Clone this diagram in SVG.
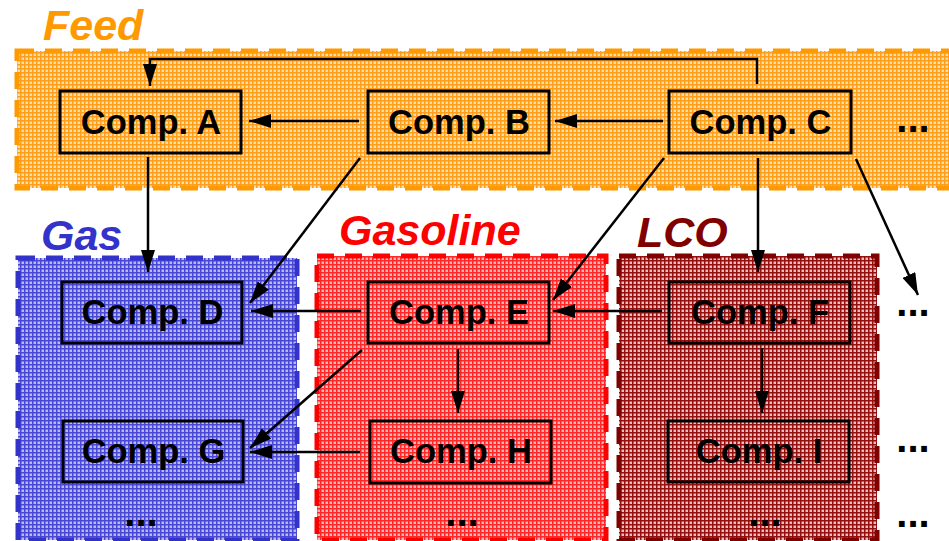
<svg xmlns="http://www.w3.org/2000/svg" width="949" height="541" viewBox="0 0 949 541">
<defs>
<pattern id="pFeed" width="4" height="4" patternUnits="userSpaceOnUse">
<rect width="4" height="4" fill="#FFDCA8"/><path d="M0,0.75 H4 M0.75,0 V4" stroke="#FF9E1A" stroke-width="1.5"/>
</pattern>
<pattern id="pGas" width="4" height="4" patternUnits="userSpaceOnUse">
<rect width="4" height="4" fill="#B8B8F2"/><path d="M0,0.75 H4 M0.75,0 V4" stroke="#4848D4" stroke-width="1.5"/>
</pattern>
<pattern id="pGasoline" width="4" height="4" patternUnits="userSpaceOnUse">
<rect width="4" height="4" fill="#FFB4B4"/><path d="M0,0.75 H4 M0.75,0 V4" stroke="#FF2828" stroke-width="1.5"/>
</pattern>
<pattern id="pLCO" width="4" height="4" patternUnits="userSpaceOnUse">
<rect width="4" height="4" fill="#E2C0C0"/><path d="M0,0.75 H4 M0.75,0 V4" stroke="#960F0F" stroke-width="1.5"/>
</pattern>
<marker id="arr" markerUnits="userSpaceOnUse" markerWidth="22" markerHeight="14" refX="22" refY="7" orient="auto">
<path d="M0,0 L22,7 L0,14 z" fill="#000"/>
</marker>
</defs>
<style>
.grp{stroke-width:5;stroke-dasharray:17 11}
.lab{font-family:"Liberation Sans",Arial,sans-serif;font-weight:bold;font-style:italic;font-size:43px}
.box{fill:none;stroke:#000;stroke-width:3}
.t{font-family:"Liberation Sans",Arial,sans-serif;font-weight:bold;font-size:34.5px;fill:#000;text-anchor:middle}
.dots{font-family:"Liberation Sans",Arial,sans-serif;font-weight:bold;font-size:40px;fill:#000;text-anchor:middle}
.c{fill:none;stroke:#000;stroke-width:2.5;marker-end:url(#arr)}
</style>
<rect width="949" height="541" fill="#fff"/>

<g id="group-feed">
<rect class="grp" x="17" y="51" width="960" height="137" fill="url(#pFeed)" stroke="#FF9900"/>
<text class="lab" x="43" y="40" fill="#FF9900">Feed</text>
</g>
<g id="group-gas">
<rect class="grp" x="18" y="258" width="279" height="282" fill="url(#pGas)" stroke="#3333CC"/>
<text class="lab" x="41" y="250" fill="#3333CC">Gas</text>
</g>
<g id="group-gasoline">
<rect class="grp" x="317" y="256" width="289" height="284" fill="url(#pGasoline)" stroke="#FF0000"/>
<text class="lab" x="339" y="245" fill="#FF0000">Gasoline</text>
</g>
<g id="group-lco">
<rect class="grp" x="619" y="256" width="258" height="284" fill="url(#pLCO)" stroke="#800000"/>
<text class="lab" x="637" y="247" fill="#800000">LCO</text>
</g>

<g id="connectors">
<path class="c" d="M757,84 V59 H150 V86"/>
<path class="c" d="M359,121 H249"/>
<path class="c" d="M663,121 H555"/>
<path class="c" d="M148,157 V272"/>
<path class="c" d="M360,158 L250,303"/>
<path class="c" d="M664,158 L553,300"/>
<path class="c" d="M758,158 V272"/>
<path class="c" d="M856,159 L918,295"/>
<path class="c" d="M361,311 H251"/>
<path class="c" d="M662,311 H553"/>
<path class="c" d="M362,350 L250,448"/>
<path class="c" d="M360,452 H250"/>
<path class="c" d="M458,349 V413"/>
<path class="c" d="M762,348 V413"/>
</g>

<g id="comp-a"><rect class="box" x="60" y="91" width="181" height="62"/><text class="t" x="151" y="134">Comp. A</text></g>
<g id="comp-b"><rect class="box" x="368" y="91" width="181" height="62"/><text class="t" x="459" y="134">Comp. B</text></g>
<g id="comp-c"><rect class="box" x="669" y="91" width="182" height="62"/><text class="t" x="760.5" y="134">Comp. C</text></g>
<g id="comp-d"><rect class="box" x="62" y="282" width="180" height="61"/><text class="t" x="152.5" y="324">Comp. D</text></g>
<g id="comp-e"><rect class="box" x="368" y="282" width="181" height="61"/><text class="t" x="459" y="324">Comp. E</text></g>
<g id="comp-f"><rect class="box" x="669" y="282" width="181" height="61"/><text class="t" x="760" y="324">Comp. F</text></g>
<g id="comp-g"><rect class="box" x="63" y="421" width="180" height="61"/><text class="t" x="153.5" y="463">Comp. G</text></g>
<g id="comp-h"><rect class="box" x="370" y="421" width="181" height="62"/><text class="t" x="461" y="463">Comp. H</text></g>
<g id="comp-i"><rect class="box" x="668" y="421" width="181" height="61"/><text class="t" x="759" y="463">Comp. I</text></g>

<g id="ellipses">
<text class="dots" x="913" y="132">...</text>
<text class="dots" x="913" y="316">...</text>
<text class="dots" x="913" y="452">...</text>
<text class="dots" x="913" y="527">...</text>
<text class="dots" x="141" y="526">...</text>
<text class="dots" x="462" y="526">...</text>
<text class="dots" x="765" y="526">...</text>
</g>
</svg>
